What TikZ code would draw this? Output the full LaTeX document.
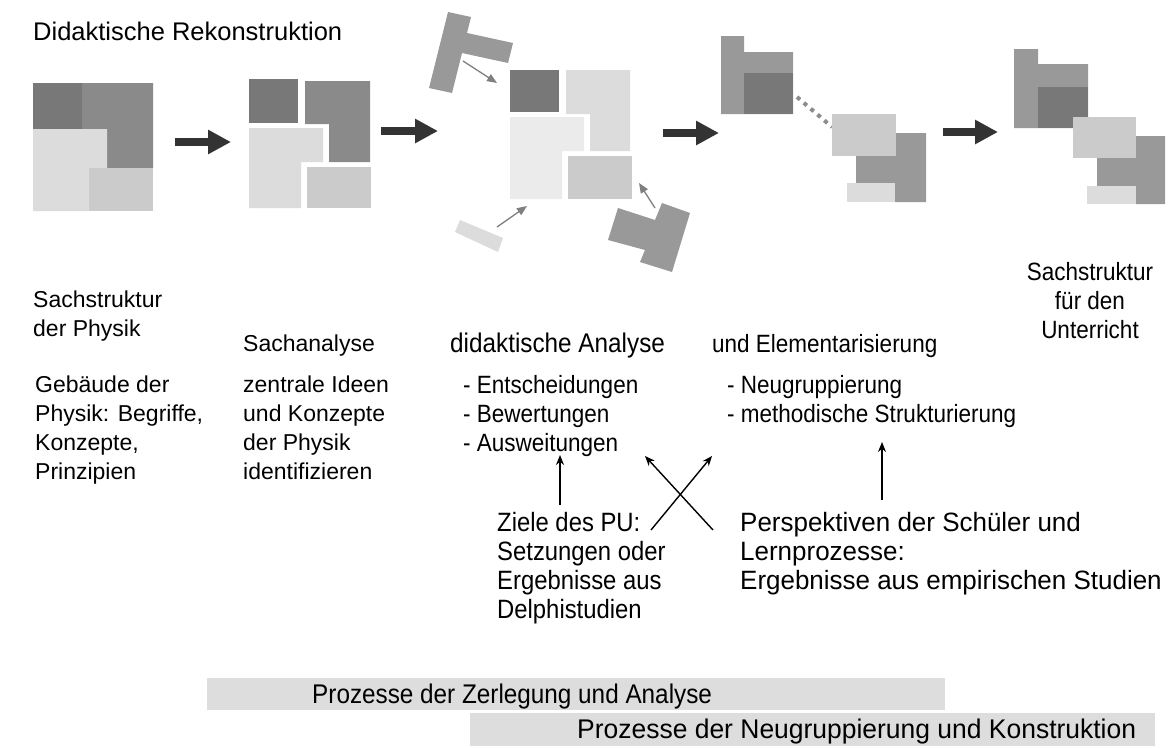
\documentclass[tikz,border=0pt]{standalone}
\usepackage{fontspec}
\setmainfont{Liberation Sans}
\newfontfamily\fsB[FakeStretch=0.9]{Liberation Sans}
\newfontfamily\fsD[FakeStretch=0.98]{Liberation Sans}
\usetikzlibrary{arrows.meta}
\definecolor{gDark}{HTML}{787878}
\definecolor{gMid}{HTML}{8A8A8A}
\definecolor{gPiece}{HTML}{999999}
\definecolor{gLight}{HTML}{DCDCDC}
\definecolor{gPale}{HTML}{EBEBEB}
\definecolor{gSoft}{HTML}{CBCBCB}
\definecolor{gBar}{HTML}{DDDDDD}
\definecolor{arrowInk}{HTML}{333333}
\definecolor{thinInk}{HTML}{7F7F7F}
\definecolor{dotInk}{HTML}{8C8C8C}
\begin{document}
\begin{tikzpicture}[x=1pt,y=-1pt,
  txt/.style={inner sep=0pt,anchor=north west,align=left,font=\fontsize{23}{29}\selectfont},
  ntxt/.style={inner sep=0pt,anchor=north west,align=left,font=\fsB\fontsize{25}{29}\selectfont},
  bigarrow/.style={draw=arrowInk,line width=8pt,-{Triangle[length=23pt,width=23pt]}},
  thinarrow/.style={draw=thinInk,line width=1.3pt,-{Triangle[length=10pt,width=8pt]}},
  textarrow/.style={draw=black,line width=1.4pt,-{Stealth[length=10pt,width=8pt]}},
  dotline/.style={draw=dotInk,line width=4pt,dash pattern=on 4pt off 5pt},
  barbox/.style={fill=gBar,draw=none}]
\useasboundingbox (0,0) rectangle (1175,747);
\fill[white] (0,0) rectangle (1175,747);

% ---- block 1: complete structure
\fill[gDark]  (33,83) rectangle (82,129);
\fill[gMid]   (82,83) -- (153,83) -- (153,168) -- (107,168) -- (107,129) -- (82,129) -- cycle;
\fill[gLight] (33,129) -- (107,129) -- (107,168) -- (89,168) -- (89,211) -- (33,211) -- cycle;
\fill[gSoft]  (89,168) rectangle (153,211);

% ---- block 2: separated parts
\fill[gDark]  (249,79) rectangle (298,123);
\fill[gMid]   (305,81) -- (370,81) -- (370,162) -- (329,162) -- (329,124) -- (305,124) -- cycle;
\fill[gLight] (249,128) -- (323,128) -- (323,162) -- (301,162) -- (301,208) -- (249,208) -- cycle;
\fill[gSoft]  (307,167) rectangle (371,208);

% ---- block 3: analysis with incoming pieces
\fill[gDark]  (510,70) rectangle (559,112);
\fill[gLight] (566,70) -- (630,70) -- (630,151) -- (590,151) -- (590,114) -- (566,114) -- cycle;
\fill[gPale]  (510,117) -- (584,117) -- (584,151) -- (562,151) -- (562,199) -- (510,199) -- cycle;
\fill[gSoft]  (568,156) rectangle (632,199);
% incoming pieces
\fill[gPiece] (429,88) -- (452,93) -- (462,53) -- (508,63) -- (513,43) -- (467,33) -- (471,17) -- (448,12) -- cycle;
\fill[gLight] (460,220) -- (503,238) -- (498,252) -- (455,232) -- cycle;
\fill[gPiece] (618,208) -- (655,220) -- (662,203) -- (690,213) -- (672,272) -- (640,262) -- (645,250) -- (608,240) -- cycle;
\coordinate (pa1s) at (463,61);  \coordinate (pa1e) at (497,83);
\coordinate (pa2s) at (497,227); \coordinate (pa2e) at (527,206);
\coordinate (pa3s) at (655,208); \coordinate (pa3e) at (639,183);
\draw[thinarrow] (pa1s) -- (pa1e);
\draw[thinarrow] (pa2s) -- (pa2e);
\draw[thinarrow] (pa3s) -- (pa3e);

% ---- block 4: regrouping
\fill[gPiece] (721,36) -- (744,36) -- (744,52) -- (793,52) -- (793,114) -- (721,114) -- cycle;
\fill[gDark]  (744,73) rectangle (793,114);
\coordinate (dl1) at (797,97); \coordinate (dl2) at (832,127);
\draw[dotline] (dl1) -- (dl2);
\fill[gPiece] (856,133) -- (926,133) -- (926,202) -- (895,202) -- (895,183) -- (856,183) -- cycle;
\fill[gSoft]  (832,114) rectangle (896,156);
\fill[gLight] (847,183) rectangle (895,202);

% ---- block 5: new structure
\fill[gPiece] (1014,49) -- (1038,49) -- (1038,64) -- (1088,64) -- (1088,128) -- (1014,128) -- cycle;
\fill[gDark]  (1038,87) rectangle (1088,128);
\fill[gPiece] (1097,136) -- (1165,136) -- (1165,204) -- (1136,204) -- (1136,186) -- (1097,186) -- cycle;
\fill[gSoft]  (1073,117) rectangle (1136,158);
\fill[gLight] (1087,186) rectangle (1136,204);

% ---- process arrows
\coordinate (ba1s) at (175,142); \coordinate (ba1e) at (231,142);
\coordinate (ba2s) at (381,131); \coordinate (ba2e) at (438,131);
\coordinate (ba3s) at (663,133); \coordinate (ba3e) at (719,133);
\coordinate (ba4s) at (943,132); \coordinate (ba4e) at (998,132);
\draw[bigarrow] (ba1s) -- (ba1e);
\draw[bigarrow] (ba2s) -- (ba2e);
\draw[bigarrow] (ba3s) -- (ba3e);
\draw[bigarrow] (ba4s) -- (ba4e);

% ---- texts
\node[txt,font=\fontsize{25.5}{30}\selectfont] (title) at (33,22) {Didaktische Rekonstruktion};
\node[txt] (sp) at (33,291) {Sachstruktur\\der Physik};
\node[txt] (sa) at (243,335) {Sachanalyse};
\node[ntxt,font=\fsB\fontsize{27}{29}\selectfont] (da) at (450,333) {didaktische Analyse};
\node[ntxt] (el) at (712,334) {und Elementarisierung};
\node[ntxt,anchor=north,align=center] (su) at (1090,262) {Sachstruktur\\für den\\Unterricht};

\node[txt] (gp) at (35,376) {Gebäude der\\Physik: Begriffe,\\Konzepte,\\Prinzipien};
\node[txt] (zi) at (243,376) {zentrale Ideen\\und Konzepte\\der Physik\\identifizieren};
\node[ntxt] (eb) at (463,375) {- Entscheidungen\\- Bewertungen\\- Ausweitungen};
\node[ntxt] (nm) at (727,375) {- Neugruppierung\\- methodische Strukturierung};
\node[ntxt,font=\fsB\fontsize{26.5}{29}\selectfont] (zp) at (497,512) {Ziele des PU:\\Setzungen oder\\Ergebnisse aus\\Delphistudien};
\node[ntxt,font=\fsD\fontsize{26.5}{29}\selectfont] (ps) at (740,512) {Perspektiven der Schüler und\\Lernprozesse:\\Ergebnisse aus empirischen Studien};

% ---- influence arrows
\coordinate (u1s) at (560,505); \coordinate (u1e) at (560,455);
\coordinate (c1s) at (651,530); \coordinate (c1e) at (712,456);
\coordinate (c2s) at (713,530); \coordinate (c2e) at (645,456);
\coordinate (u2s) at (882,500); \coordinate (u2e) at (882,442);
\draw[textarrow] (u1s) -- (u1e);
\draw[textarrow] (c1s) -- (c1e);
\draw[textarrow] (c2s) -- (c2e);
\draw[textarrow] (u2s) -- (u2e);

% ---- process bars
\fill[barbox] (207,678) rectangle (945,710);
\fill[barbox] (470,713) rectangle (1155,746);
\node[ntxt,anchor=base west,font=\fsB\fontsize{27}{29}\selectfont] (pz) at (312,703) {Prozesse der Zerlegung und Analyse};
\node[ntxt,anchor=base west,font=\fsD\fontsize{27}{29}\selectfont] (pn) at (577,738) {Prozesse der Neugruppierung und Konstruktion};
\end{tikzpicture}
\end{document}
